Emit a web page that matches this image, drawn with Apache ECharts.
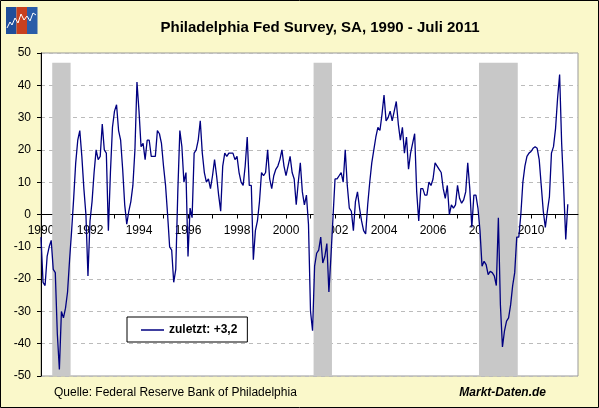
<!DOCTYPE html>
<html>
<head>
<meta charset="utf-8">
<script src="https://cdn.jsdelivr.net/npm/echarts@6/dist/echarts.min.js"></script>
<style>
html,body{margin:0;padding:0;background:#FAF8CA;}
#c{width:599px;height:408px;}
</style>
</head>
<body>
<div id="c"></div>
<script>
// ---- Data: Philadelphia Fed Survey (SA), monthly, Jan 1990 - Jul 2011 ----
const firstYear = 1990;
const v1990 = [-7, -21, -22, -13, -10, -8, -17, -18, -37, -48, -30, -32];
const v1991 = [-29, -24, -14, -5, 5, 16, 23, 26, 18, 8, 0, -19];
const v1992 = [-2, 4, 13, 20, 17, 18, 28, 20, 19, -5, 13, 27];
const v1993 = [32, 34, 26, 23, 14, 3, -3, 1, 4, 9, 20, 41];
const v1994 = [32, 21, 22, 17, 23, 23, 18, 18, 18, 26, 25, 22];
const v1995 = [15, 9, 0, -10, -11, -21, -17, 7, 26, 21, 10, 13];
const v1996 = [-13, 2, -1, 19, 20, 23, 29, 19, 13, 10, 11, 8];
const v1997 = [12, 17, 12, 6, 1, 15, 19, 18, 19, 19, 19, 17];
const v1998 = [18, 13, 10, 9, 15, 24, 9, 9, -14, -5, -2, 4];
const v1999 = [13, 12, 13, 20, 11, 8, 12, 14, 15, 17, 20, 15];
const v2000 = [12, 15, 18, 13, 11, 3, 10, 16, 7, 3, 6, -3];
const v2001 = [-30, -36, -16, -12, -11, -7, -15, -13, -9, -24, -13, -1];
const v2002 = [11, 11, 12, 13, 10, 20, 9, 2, 1, -5, 4, 7];
const v2003 = [2, -2, -5, -6, 3, 10, 16, 20, 24, 27, 26, 31];
const v2004 = [37, 29, 30, 32, 29, 32, 35, 28, 23, 27, 19, 24];
const v2005 = [14, 19, 22, 25, 7, -2, 8, 8, 6, 6, 10, 9];
const v2006 = [11, 16, 15, 14, 13, 8, 5, 9, 0, 3, 2, 3];
const v2007 = [9, 5, 3.5, 4.5, 7, 16, 8, -4, 6, 6, 2, -5];
const v2008 = [-16, -14.5, -15.5, -18.6, -17.6, -18, -19, -22, -1, -28, -41, -36];
const v2009 = [-33, -32, -28, -22, -18, -7, -7, 0, 10, 15, 18, 19];
const v2010 = [19.5, 20.5, 21, 20.5, 17, 9, 1, -4, 1, 5.5, 19, 21];
const v2011 = [26.6, 36, 43.3, 22, 8, -7.7, 3.2];

const seriesName = 'zuletzt: +3,2';
const titleText = 'Philadelphia Fed Survey, SA, 1990 - Juli 2011';
const sourceText = 'Quelle: Federal Reserve Bank of Philadelphia';
const brandText = 'Markt-Daten.de';

// US recessions (NBER), first and last month
const recessionStart = ['1990-07', '2001-03', '2007-12'];
const recessionEnd   = ['1991-03', '2001-11', '2009-06'];
const recessionTop = 47;

const labelYears = [1990, 1992, 1994, 1996, 1998, 2000, 2002, 2004, 2006, 2008, 2010];
const tickYears = [1990,1991,1992,1993,1994,1995,1996,1997,1998,1999,2000,2001,2002,2003,2004,2005,2006,2007,2008,2009,2010,2011];

// ---- build ----
const values = [].concat(v1990,v1991,v1992,v1993,v1994,v1995,v1996,v1997,v1998,v1999,v2000,
  v2001,v2002,v2003,v2004,v2005,v2006,v2007,v2008,v2009,v2010,v2011);
const monthIdx = s => (parseInt(s.slice(0,4),10) - firstYear) * 12 + parseInt(s.slice(5),10) - 1;
const yearIdx = y => (y - firstYear) * 12;
const seriesData = values.map((v, i) => [i, v]);
const areas = recessionStart.map((s, k) => [
  { xAxis: monthIdx(s) - 0.5, yAxis: recessionTop },
  { xAxis: monthIdx(recessionEnd[k]) + 0.5, yAxis: -50 }
]);

const FONT = 'Liberation Sans, Arial, sans-serif';
const GRID_H = 323;
const chart = echarts.init(document.getElementById('c'), null, {renderer: 'canvas'});
chart.setOption({
  backgroundColor: '#FAF8CA',
  animation: false,
  title: {
    text: titleText,
    left: 315, top: 15, textAlign: 'center',
    textStyle: {fontFamily: FONT, fontSize: 15, fontWeight: 'bold', color: '#000'}
  },
  legend: {
    left: 127, top: 317,
    padding: [7, 10, 6, 14],
    backgroundColor: '#fff', borderColor: '#000', borderWidth: 1,
    icon: 'rect', itemWidth: 23, itemHeight: 1.5,
    textStyle: {fontFamily: FONT, fontSize: 12, fontWeight: 'bold', color: '#000'},
    data: [seriesName]
  },
  grid: {
    left: 41, top: 53, width: 537, height: GRID_H,
    show: true, backgroundColor: '#fff', borderColor: '#999', borderWidth: 1
  },
  xAxis: {
    type: 'value', min: 0, max: 263,
    position: 'bottom',
    offset: -GRID_H / 2,
    axisLine: {onZero: false, lineStyle: {color: '#000', width: 1}},
    axisTick: {show: true, length: 4, lineStyle: {color: '#000'}, customValues: tickYears.map(yearIdx)},
    axisLabel: {
      customValues: labelYears.map(yearIdx),
      formatter: v => String(firstYear + Math.round(v / 12)),
      margin: 10, fontFamily: FONT, fontSize: 12, color: '#000'
    },
    splitLine: {show: false}
  },
  yAxis: {
    type: 'value', min: -50, max: 50, interval: 10,
    axisLine: {show: true, onZero: false, lineStyle: {color: '#000'}},
    axisTick: {show: true, length: 4, lineStyle: {color: '#000'}},
    axisLabel: {margin: 10, fontFamily: FONT, fontSize: 12, color: '#000'},
    splitLine: {show: true, lineStyle: {color: '#BBBBBB', type: [4, 4], width: 1}}
  },
  series: [{
    name: seriesName,
    type: 'line',
    data: seriesData,
    showSymbol: false,
    symbol: 'none',
    itemStyle: {color: '#000080'},
    lineStyle: {color: '#000080', width: 1.3},
    z: 3,
    markArea: {
      silent: true,
      itemStyle: {color: '#C8C8C8'},
      data: areas
    }
  }],
  graphic: [
    {type: 'rect', shape: {x: 0.5, y: 0.5, width: 598, height: 407}, style: {fill: null, stroke: '#000', lineWidth: 1}, silent: true},
    {type: 'rect', shape: {x: 6, y: 7, width: 10.5, height: 27}, style: {fill: '#1F4E9A'}},
    {type: 'rect', shape: {x: 16.5, y: 7, width: 10.5, height: 27}, style: {fill: '#C8401E'}},
    {type: 'rect', shape: {x: 27, y: 7, width: 10.5, height: 27}, style: {fill: '#2A5DA8'}},
    {type: 'polyline', shape: {points: [[7,28],[10,22],[12,25],[15,18],[18,23],[21,14],[24,20],[27,16],[30,21],[33,13],[36,15]]}, style: {stroke: '#fff', lineWidth: 1, fill: null}},
    {type: 'text', left: 54, top: 387, style: {text: sourceText, font: '12px ' + FONT, fill: '#000'}},
    {type: 'text', right: 53, top: 387, style: {text: brandText, font: 'italic bold 12px ' + FONT, fill: '#000'}}
  ]
});
</script>
</body>
</html>
